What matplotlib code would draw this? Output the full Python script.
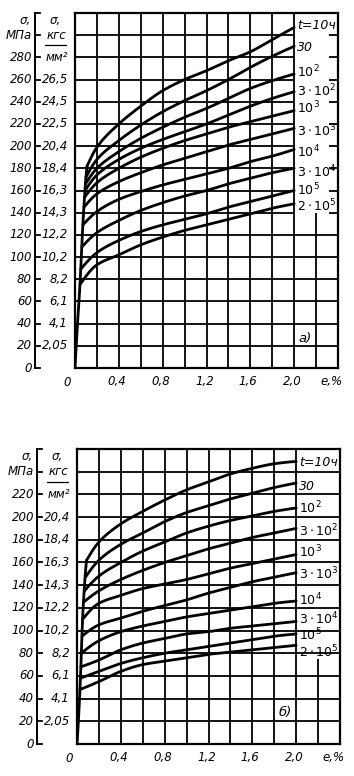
import numpy as np
import matplotlib
matplotlib.use('Agg')
import matplotlib.pyplot as plt
from matplotlib import font_manager
from matplotlib.transforms import blended_transform_factory
from matplotlib.lines import Line2D

names = {f.name for f in font_manager.fontManager.ttflist}
FAM = 'Liberation Sans Narrow' if 'Liberation Sans Narrow' in names else 'DejaVu Sans'
plt.rcParams['font.family'] = [FAM, 'DejaVu Sans']
plt.rcParams['mathtext.fontset'] = 'custom'
plt.rcParams['mathtext.it'] = FAM + ':italic'
plt.rcParams['mathtext.rm'] = FAM
plt.rcParams['mathtext.default'] = 'it'

# ---------------- data ----------------
strain = [0.2, 0.4, 0.6, 0.8, 1.0, 1.2, 1.4, 1.6, 1.8, 2.0]
curve_labels = ['t=10ч', '30', r'$10^2$', r'$3\cdot10^2$', r'$10^3$', r'$3\cdot10^3$',
                r'$10^4$', r'$3\cdot10^4$', r'$10^5$', r'$2\cdot10^5$']
x_tick_vals = [0.0, 0.4, 0.8, 1.2, 1.6, 2.0]
x_tick_text = ['0', '0,4', '0,8', '1,2', '1,6', '2,0']

# panel a)
a_elastic_x = [0.0, 0.02, 0.045, 0.075, 0.1, 0.11]
a_elastic_y = [0, 35, 75, 135, 172, 182]
a_branch_x = [0.11, 0.1, 0.096, 0.092, 0.088, 0.082, 0.072, 0.062, 0.052, 0.045]
a_branch_y = [182, 172, 166, 160, 154, 145, 129, 109, 89, 75]
a_t1 = [199, 220, 236, 250, 260, 268, 277, 285, 296, 307]
a_t2 = [188, 205, 219, 231, 241, 250, 260, 271, 281, 290]
a_t3 = [180, 195, 207, 217, 226, 234, 243, 252, 259, 265]
a_t4 = [174, 188, 198, 206, 213, 220, 228, 236, 243, 249]
a_t5 = [167, 180, 190, 198, 205, 211, 217, 222, 227, 232]
a_t6 = [157, 168, 176, 183, 189, 195, 201, 206, 211, 216]
a_t7 = [141, 152, 159, 165, 170, 175, 180, 186, 191, 197]
a_t8 = [122, 133, 142, 149, 155, 160, 166, 171, 176, 180]
a_t9 = [104, 115, 123, 129, 134, 139, 145, 150, 155, 160]
a_t10 = [93, 102, 111, 118, 124, 129, 134, 139, 144, 148]
a_label_y = [309, 289, 267, 250, 234, 214, 195, 177, 160, 146]
a_mpa_ticks = [0, 20, 40, 60, 80, 100, 120, 140, 160, 180, 200, 220, 240, 260, 280]
a_kgf_ticks = [20, 40, 60, 80, 100, 120, 140, 160, 180, 200, 220, 240, 260]
a_kgf_text = ['2,05', '4,1', '6,1', '8,2', '10,2', '12,2', '14,3', '16,3', '18,4',
              '20,4', '22,5', '24,5', '26,5']

# panel б)
b_elastic_x = [0.0, 0.027, 0.055, 0.088]
b_elastic_y = [0, 48, 118, 162]
b_branch_x = [0.088, 0.077, 0.068, 0.06, 0.052, 0.046, 0.04, 0.035, 0.031, 0.027]
b_branch_y = [162, 147, 135, 125, 110, 95, 80, 68, 58, 48]
b_t1 = [178, 194, 205, 215, 224, 231, 238, 243, 247, 249]
b_t2 = [162, 176, 186, 196, 204, 210, 216, 221, 226, 230]
b_t3 = [148, 160, 170, 178, 186, 192, 197, 201, 205, 208]
b_t4 = [135, 145, 153, 160, 166, 172, 177, 182, 186, 190]
b_t5 = [124, 131, 137, 141, 145, 150, 155, 159, 163, 167]
b_t6 = [105, 111, 117, 122, 127, 133, 138, 143, 147, 151]
b_t7 = [91, 99, 104, 108, 112, 115, 118, 121, 124, 126]
b_t8 = [74, 83, 89, 93, 97, 99, 102, 104, 106, 108]
b_t9 = [64, 71, 76, 80, 83, 86, 89, 92, 95, 97]
b_t10 = [55, 64, 70, 73, 76, 79, 81, 83, 85, 87]
b_label_y = [248, 227, 208, 188, 169, 150, 127, 110, 96, 81]
b_mpa_ticks = [0, 20, 40, 60, 80, 100, 120, 140, 160, 180, 200, 220]
b_kgf_ticks = [20, 40, 60, 80, 100, 120, 140, 160, 180, 200]
b_kgf_text = ['2,05', '4,1', '6,1', '8,2', '10,2', '12,2', '14,3', '16,3', '18,4', '20,4']


def pchip(x, y, xs):
    x = np.asarray(x, float); y = np.asarray(y, float)
    h = np.diff(x); d = np.diff(y) / h
    n = len(x)
    m = np.zeros(n)
    for k in range(1, n - 1):
        if d[k - 1] * d[k] > 0:
            w1 = 2 * h[k] + h[k - 1]; w2 = h[k] + 2 * h[k - 1]
            m[k] = (w1 + w2) / (w1 / d[k - 1] + w2 / d[k])

    def end(h0, h1, d0, d1):
        mm = ((2 * h0 + h1) * d0 - h0 * d1) / (h0 + h1)
        if np.sign(mm) != np.sign(d0):
            mm = 0.0
        elif np.sign(d0) != np.sign(d1) and abs(mm) > abs(3 * d0):
            mm = 3 * d0
        return mm
    m[0] = end(h[0], h[1], d[0], d[1])
    m[-1] = end(h[-1], h[-2], d[-1], d[-2])
    idx = np.clip(np.searchsorted(x, xs) - 1, 0, n - 2)
    t = (xs - x[idx]) / h[idx]
    h00 = 2 * t**3 - 3 * t**2 + 1; h10 = t**3 - 2 * t**2 + t
    h01 = -2 * t**3 + 3 * t**2; h11 = t**3 - t**2
    return h00 * y[idx] + h10 * h[idx] * m[idx] + h01 * y[idx + 1] + h11 * h[idx] * m[idx + 1]


W, H = 354, 776
fig = plt.figure(figsize=(W / 100, H / 100), dpi=100)

FS = 8.5
TXT = dict(fontsize=FS, style='italic', color='black')


def panel(rect_px, ytop, line_x, el_x, el_y, br_x, br_y, curves, label_y,
          mpa_ticks, kgf_ticks, kgf_text, col_bottom, tag, tag_xy, full_col_h):
    l, t, r, b = rect_px
    ax = fig.add_axes([l / W, 1 - b / H, (r - l) / W, (b - t) / H])
    ax.set_xlim(0, 2.4)
    ax.set_ylim(0, ytop)
    ax.set_xticks([]); ax.set_yticks([])
    for s in ax.spines.values():
        s.set_linewidth(1.6)
    gkw = dict(color='black', lw=1.3, zorder=1, solid_capstyle='butt')
    for xv in np.arange(0.2, 2.21, 0.2):
        if xv > 2.1:
            ax.plot([xv, xv], [0, col_bottom], **gkw)
        else:
            ax.plot([xv, xv], [0, ytop], **gkw)
    for yv in np.arange(20, ytop - 1, 20):
        if full_col_h or yv < col_bottom:
            ax.plot([0, 2.4], [yv, yv], **gkw)
        else:
            ax.plot([0, 2.0], [yv, yv], **gkw)
            ax.plot([2.32, 2.4], [yv, yv], **gkw)
    # curves
    ckw = dict(color='black', lw=2.0, zorder=3, solid_capstyle='round')
    exs = np.linspace(el_x[0], el_x[-1], 60)
    ax.plot(exs, pchip(el_x, el_y, exs), **ckw)
    for i, cv in enumerate(curves):
        xs_d = [br_x[i]] + strain
        ys_d = [br_y[i]] + cv
        xs = np.linspace(xs_d[0], xs_d[-1], 300)
        ax.plot(xs, pchip(xs_d, ys_d, xs), **ckw)
        ax.text(2.03, label_y[i], curve_labels[i], ha='left', va='center',
                fontsize=9, style='italic', zorder=5)
    ax.text(tag_xy[0], tag_xy[1], tag, ha='center', va='center',
            fontsize=9.5, style='italic', zorder=5,
            bbox=dict(facecolor='white', edgecolor='none', pad=0.5))
    # x tick labels
    tr_x = blended_transform_factory(ax.transData, fig.transFigure)
    ylab = 1 - (b + 14) / H
    for xv, tx in zip(x_tick_vals, x_tick_text):
        dx = -0.07 if xv == 0 else -0.02
        ax.text(xv + dx, ylab, tx, transform=tr_x, ha='center', va='center', **TXT)
    ax.text(2.4 - 0.06, ylab, 'e,%', transform=tr_x, ha='center', va='center', **TXT)

    # left scale line
    tr_y = blended_transform_factory(fig.transFigure, ax.transData)
    X = lambda px: px / W
    ax.add_line(Line2D([X(line_x), X(line_x)], [0, ytop], transform=tr_y,
                       color='black', lw=1.4, clip_on=False))
    for yv in list(np.arange(0, ytop + 1, 20)):
        ax.add_line(Line2D([X(line_x), X(line_x + 5)], [yv, yv], transform=tr_y,
                           color='black', lw=1.3, clip_on=False))
    for yv in mpa_ticks:
        ax.text(X(line_x - 3), yv, str(yv), transform=tr_y, ha='right', va='center',
                clip_on=False, **TXT)
    kx = X(line_x + 33)
    for yv, tx in zip(kgf_ticks, kgf_text):
        ax.text(kx, yv, tx, transform=tr_y, ha='right', va='center', clip_on=False, **TXT)
    # unit labels
    ax.text(X(line_x - 3), ytop - 20, 'МПа', transform=tr_y, ha='right', va='center', **TXT)
    ax.text(X(line_x - 10), ytop - 7, 'σ,', transform=tr_y, ha='center', va='center', **TXT)
    ax.text(X(line_x + 20), ytop - 7, 'σ,', transform=tr_y, ha='center', va='center', **TXT)
    ax.text(kx - X(2), ytop - 20, 'кгс', transform=tr_y, ha='right', va='center', **TXT)
    ax.add_line(Line2D([X(line_x + 10), X(line_x + 31)], [ytop - 29, ytop - 29],
                       transform=tr_y, color='black', lw=0.9, clip_on=False))
    ax.text(kx, ytop - 40, 'мм²', transform=tr_y, ha='right', va='center', **TXT)
    return ax


panel((75, 13, 338, 368), 320, 35, a_elastic_x, a_elastic_y, a_branch_x, a_branch_y,
      [a_t1, a_t2, a_t3, a_t4, a_t5, a_t6, a_t7, a_t8, a_t9, a_t10], a_label_y,
      a_mpa_ticks, a_kgf_ticks, a_kgf_text, 140, 'a)', (2.1, 27), False)

panel((77, 449, 340, 744), 260, 37, b_elastic_x, b_elastic_y, b_branch_x, b_branch_y,
      [b_t1, b_t2, b_t3, b_t4, b_t5, b_t6, b_t7, b_t8, b_t9, b_t10], b_label_y,
      b_mpa_ticks, b_kgf_ticks, b_kgf_text, 75, 'б)', (1.9, 28), True)

fig.savefig('out.png', dpi=100)
